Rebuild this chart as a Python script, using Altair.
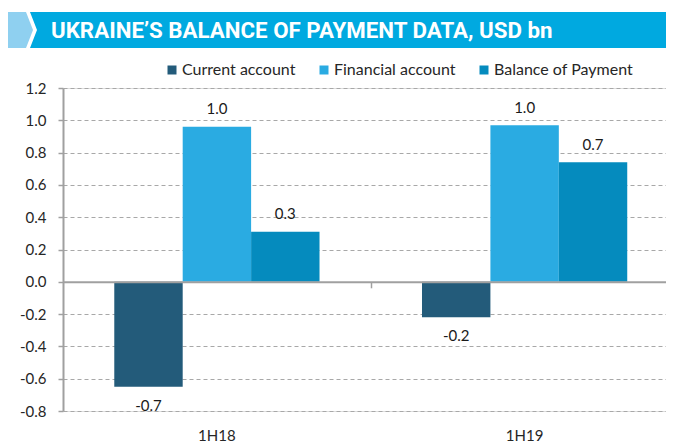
import altair as alt
import pandas as pd

# ---- data ----
periods = ["1H18", "1H19"]
series = ["Current account", "Financial account", "Balance of Payment"]
current_account = [-0.65, -0.22]
financial_account = [0.96, 0.97]
balance_of_payment = [0.31, 0.74]
y_ticks = [-0.8, -0.6, -0.4, -0.2, 0.0, 0.2, 0.4, 0.6, 0.8, 1.0, 1.2]
colors = ["#235B7A", "#2AABE2", "#058BBE"]
title_text = "UKRAINE\u2019S BALANCE OF PAYMENT DATA, USD bn"

rows = []
for i, p in enumerate(periods):
    for s, vals in zip(series, [current_account, financial_account, balance_of_payment]):
        rows.append({"period": p, "series": s, "value": vals[i]})
df = pd.DataFrame(rows)

W, H = 603, 323
GRAY = "#A0A0A0"
TXT = "#262626"

x_scale = alt.Scale(domain=periods, paddingInner=0.333, paddingOuter=0.1463, align=0.5695)
y_scale = alt.Scale(domain=[-0.8, 1.2], nice=False, zero=False)
xoff = alt.XOffset("series:N", sort=series,
                   scale=alt.Scale(domain=series, paddingInner=0, paddingOuter=0))

y_axis = alt.Axis(title=None, values=y_ticks, format=".1f", labelFont="Lato",
                  labelFontSize=15, labelColor=TXT, labelPadding=12, tickSize=5,
                  tickColor=GRAY, tickWidth=1.5, domainColor=GRAY, domainWidth=2,
                  grid=True, gridColor="#A8A8A8", gridDash=[4, 3], gridWidth=1)
y_enc = alt.Y("value:Q", scale=y_scale, axis=y_axis)

base = alt.Chart(df)

bars = base.mark_bar().encode(
    x=alt.X("period:N", scale=x_scale,
            axis=alt.Axis(title=None, orient="bottom", domain=False, ticks=False,
                          labelFont="Lato", labelFontSize=15, labelColor=TXT,
                          labelPadding=17, labelAngle=0)),
    xOffset=xoff,
    y=y_enc,
    color=alt.Color("series:N", scale=alt.Scale(domain=series, range=colors),
                    legend=alt.Legend(title=None, orient="none", legendX=101, legendY=-26,
                                      direction="horizontal", columns=3, symbolType="square",
                                      symbolSize=81, symbolStrokeWidth=0, labelFont="Lato",
                                      labelFontSize=16, labelColor=TXT, labelOffset=2,
                                      columnPadding=20, padding=0)),
)

zero_axis = base.mark_rule(opacity=0).encode(
    x=alt.X("period:N", scale=x_scale,
            axis=alt.Axis(title=None, orient="bottom", labels=False, offset=-129.2,
                          tickOffset=153.86, domainColor=GRAY, domainWidth=2,
                          tickColor=GRAY, tickWidth=1.5, tickSize=6, zindex=1, grid=False)),
)

x_plain = alt.X("period:N", scale=x_scale, axis=None)
txt_enc = dict(x=x_plain, xOffset=xoff, y=y_enc, text=alt.Text("value:Q", format=".1f"))

pos = base.transform_filter("datum.value >= 0").mark_text(
    dy=-17.5, baseline="middle", font="Lato", fontSize=15, color="#1A1A1A"
).encode(**txt_enc)
neg = base.transform_filter("datum.value < 0").mark_text(
    dy=19, baseline="middle", font="Lato", fontSize=15, color="#1A1A1A"
).encode(**txt_enc)

one = alt.Chart(pd.DataFrame({"k": [0]}))
LIGHT_PATH = "M-1.222,-1L-0.222,-1L0.167,0L-0.222,1L-1.222,1Z"
DARK_PATH = "M0,-1L35.8,-1L35.8,1L0,1L0.389,0Z"
light = one.mark_point(shape=LIGHT_PATH, size=1296, filled=True, color="#8FD0F0",
                       opacity=1, strokeWidth=0).encode(x=alt.value(-33), y=alt.value(-58))
dark = one.mark_point(shape=DARK_PATH, size=1296, filled=True, color="#00A9E0",
                      opacity=1, strokeWidth=0).encode(x=alt.value(-33), y=alt.value(-58))
title = one.mark_text(text=title_text, align="left", baseline="alphabetic", font="Roboto",
                      fontWeight="bold", fontSize=22.3, color="white").encode(
    x=alt.value(-12), y=alt.value(-50))

chart = alt.layer(light, dark, title, bars, zero_axis, pos, neg).resolve_axis(
    x="independent"
).properties(
    width=W, height=H,
    autosize=alt.AutoSizeParams(type="none"),
    padding={"left": 55, "top": 80, "right": 0, "bottom": 35},
).configure_view(stroke=None).configure(
    background="white",
    locale={"number": {"decimal": ".", "thousands": ",", "grouping": [3],
                       "currency": ["$", ""], "minus": "-"}},
)

chart.save("out.html", embed_options={"renderer": "svg", "actions": False})
